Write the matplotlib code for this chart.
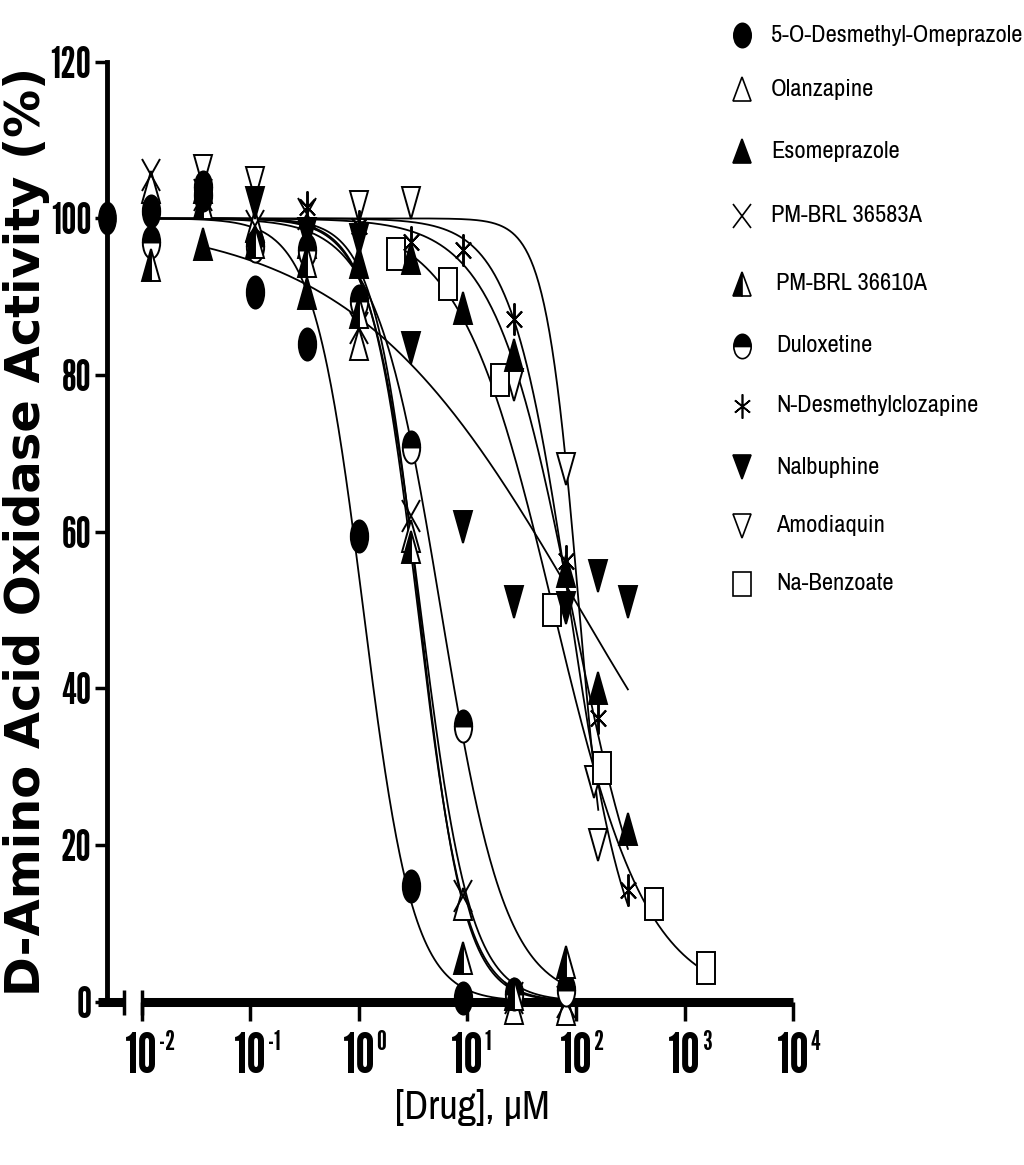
import numpy as np
import matplotlib
matplotlib.use('Agg')
import matplotlib.pyplot as plt
from matplotlib import font_manager
from matplotlib.markers import MarkerStyle
from matplotlib.transforms import Affine2D

names = {f.name for f in font_manager.fontManager.ttflist}


def pick(cands):
    return next((c for c in cands if c in names), 'DejaVu Sans')


tick_font = pick(['League Gothic', 'Oswald', 'Antonio', 'Fjalla One', 'Roboto Condensed'])
text_font = pick(['Archivo Narrow', 'PT Sans Narrow', 'Roboto Condensed', 'Liberation Sans'])
plt.rcParams['font.family'] = [text_font, 'DejaVu Sans']

# --- data: concentration (uM) vs activity (%) ---
drugs = ['5-O-Desmethyl-Omeprazole', 'Olanzapine', 'Esomeprazole', 'PM-BRL 36583A',
         'PM-BRL 36610A', 'Duloxetine', 'N-Desmethylclozapine', 'Nalbuphine',
         'Amodiaquin', 'Na-Benzoate']

conc_omep = [0.0123, 0.037, 0.111, 0.333, 1, 3, 9]
act_omep = [101, 103, 90.6, 84, 59.5, 14.7, 0.5]
conc_olan = [0.0123, 0.037, 0.111, 0.333, 1, 3, 9, 27, 81]
act_olan = [104, 104, 99, 97, 84, 59.5, 12.5, -0.8, -1]
conc_esom = [0.037, 0.333, 1, 3, 9, 27, 81, 160, 300]
act_esom = [96.7, 90.5, 94.4, 95, 88.6, 82.5, 55, 40, 22]
conc_pm83 = [0.0123, 0.037, 0.111, 0.333, 1, 3, 9, 27, 81]
act_pm83 = [105.5, 103, 99, 100.5, 86, 62, 13.5, 0.5, 0]
conc_pm10 = [0.0123, 0.037, 0.111, 0.333, 1, 3, 9, 27, 81]
act_pm10 = [94, 102, 97, 94.5, 88, 58, 5.5, 1, 5]
conc_dulo = [0.0123, 0.037, 0.111, 0.333, 1, 3, 9, 27, 81]
act_dulo = [97, 104, 96.5, 96, 89.5, 70.8, 35.2, 1, 1.5]
conc_ndes = [0.333, 1, 3, 9, 27, 81, 160, 300]
act_ndes = [101.5, 99, 97, 96, 87.2, 56.3, 36.2, 14.2]
conc_nalb = [0.111, 0.333, 1, 3, 9, 27, 81, 160, 300]
act_nalb = [102, 98, 97.2, 83.5, 60.6, 51, 50.3, 54.4, 51]
conc_amod = [0.037, 0.111, 1, 3, 27, 81, 145, 160]
act_amod = [106, 104.5, 101.5, 102, 78.7, 68, 28, 20]
conc_benz = [2.2, 6.6, 20, 60, 175, 525, 1580]
act_benz = [95.4, 91.6, 79.3, 50, 29.8, 12.4, 4.3]

conc = [conc_omep, conc_olan, conc_esom, conc_pm83, conc_pm10,
        conc_dulo, conc_ndes, conc_nalb, conc_amod, conc_benz]
act = [act_omep, act_olan, act_esom, act_pm83, act_pm10,
       act_dulo, act_ndes, act_nalb, act_amod, act_benz]

zero_dose_act = 100  # 5-O-Desmethyl-Omeprazole, no drug

# fitted sigmoid curves (estimated IC50 in uM, Hill slope, drawn range)
ic50 = [1.1, 3.5, 92, 3.7, 3.6, 5.7, 88, 110, 107, 62]
hill = [1.9, 2.0, 1.2, 1.9, 2.1, 1.45, 1.6, 0.41, 2.8, 1.0]
fit_lo = [0.0123, 0.0123, 0.037, 0.0123, 0.0123, 0.0123, 0.333, 0.037, 0.037, 2.2]
fit_hi = [30, 81, 300, 81, 81, 81, 300, 300, 160, 1580]

x_ticks = [1e-2, 1e-1, 1e0, 1e1, 1e2, 1e3, 1e4]
x_exps = ['-2', '-1', '0', '1', '2', '3', '4']

# --- marker styles (the original markers are drawn tall) ---
stretch = Affine2D().scale(1, 1.85)
leg_stretch = Affine2D().scale(1, 1.4)
styles = [
    dict(m='o', fs='full', fc='black'),
    dict(m='^', fs='full', fc='white'),
    dict(m='^', fs='full', fc='black'),
    dict(m='x', fs='full', fc='black'),
    dict(m='^', fs='left', fc='black'),
    dict(m='o', fs='top', fc='black'),
    dict(m=(6, 2, 0), fs='full', fc='black'),
    dict(m='v', fs='full', fc='black'),
    dict(m='v', fs='full', fc='white'),
    dict(m='s', fs='full', fc='white'),
]

fig = plt.figure(figsize=(10.24, 11.65), dpi=100)
ax = fig.add_axes([0.1042, 0.1403, 0.6705, 0.8067])

x_left = 10 ** -2.322
ax.set_xscale('log')
ax.set_xlim(x_left, 1e4)
ax.set_ylim(0, 120)

for i in range(len(drugs)):
    xs = np.logspace(np.log10(fit_lo[i]), np.log10(fit_hi[i]), 300)
    ys = 100 / (1 + (xs / ic50[i]) ** hill[i])
    ax.plot(xs, ys, color='black', lw=1.3, zorder=2)

draw_order = [1, 8, 9, 3, 6, 5, 4, 2, 7, 0]
for i in draw_order:
    st = styles[i]
    ms = MarkerStyle(st['m'], fillstyle=st['fs'], transform=stretch)
    ax.plot(conc[i], act[i], ls='none', marker=ms, markersize=12.5,
            markerfacecolor=st['fc'], markerfacecoloralt='white',
            markeredgecolor='black', markeredgewidth=1.4, zorder=3, clip_on=False)

ax.plot([x_left], [zero_dose_act], ls='none',
        marker=MarkerStyle('o', transform=stretch), markersize=12.5,
        color='black', zorder=4, clip_on=False)

# axes styling
for s in ['top', 'right']:
    ax.spines[s].set_visible(False)
ax.spines['left'].set_linewidth(3.5)
ax.spines['bottom'].set_linewidth(6.5)
ax.spines['bottom'].set_bounds(1e-2, 1e4)
ax.spines['bottom'].set_capstyle('butt')

# short axis piece left of the break
ax.plot([10 ** -2.40, 10 ** -2.165], [0, 0], color='black', lw=6.5,
        solid_capstyle='butt', clip_on=False, zorder=5)
ax.plot([10 ** -2.165, 1e-2], [0, 0], ls='none', marker='|', markersize=18,
        markeredgewidth=2.5, color='black', clip_on=False, zorder=5)

ax.set_yticks([0, 20, 40, 60, 80, 100, 120])
ax.set_xticks(x_ticks)
ax.set_xticklabels(['10'] * len(x_ticks))
ax.minorticks_off()
ax.tick_params(axis='y', direction='out', length=9, width=2.5, pad=2, labelsize=25)
ax.tick_params(axis='x', direction='out', length=14, width=2.5, pad=8, labelsize=26)
for lab in ax.get_yticklabels() + ax.get_xticklabels():
    lab.set_family([tick_font, 'DejaVu Sans'])
    lab.set_fontweight('bold')

ylab = fig.text(27 / 1024, 1 - 531 / 1165, 'D-Amino Acid Oxidase Activity (%)',
                rotation=90, ha='center', va='center', fontsize=32, fontweight='bold',
                family=['DejaVu Sans'])
xlab = fig.text(472 / 1024, 1 - 1108 / 1165, '[Drug], \u00b5M', ha='center', va='center',
                fontsize=26)

# legend, laid out in figure pixels
lax = fig.add_axes([0, 0, 1, 1])
lax.set_xlim(0, 1024)
lax.set_ylim(1165, 0)
lax.axis('off')
leg_y = [35, 89, 151, 216, 284, 346, 406, 467, 526, 584]
leg_tx = [771, 771, 771, 771, 776, 776, 776, 776, 776, 776]
leg_texts = []
for i in range(len(drugs)):
    st = styles[i]
    ms = MarkerStyle(st['m'], fillstyle=st['fs'], transform=leg_stretch)
    lax.plot([742], [leg_y[i]], ls='none', marker=ms, markersize=12.5,
             markerfacecolor=st['fc'], markerfacecoloralt='white',
             markeredgecolor='black', markeredgewidth=1.2)
    leg_texts.append(lax.text(leg_tx[i], leg_y[i], drugs[i], ha='left', va='center',
                              fontsize=18))

# size the texts to the widths seen in the original
fig.canvas.draw()
r = fig.canvas.get_renderer()


def width(t):
    return t.get_window_extent(r).width


s = 18 * 250 / width(leg_texts[0])
for t in leg_texts:
    t.set_fontsize(s)
xlab.set_fontsize(26 * 155 / width(xlab))
ylab.set_fontsize(32 * 930 / ylab.get_window_extent(r).height)
ysz = 25 * 41 / width(ax.get_yticklabels()[-1])
xsz = 26 * 33 / width(ax.get_xticklabels()[0])
ax.tick_params(axis='y', labelsize=ysz)
ax.tick_params(axis='x', labelsize=xsz)

# exponents of the decade labels
fig.canvas.draw()
lab0 = ax.get_xticklabels()[0].get_window_extent(r)
for xt, e in zip(x_ticks, x_exps):
    ax.annotate(e, xy=(xt, 0), xycoords=('data', 'axes fraction'),
                xytext=(lab0.width / 2 + 1, lab0.y1 - ax.get_window_extent(r).y0 + 2),
                textcoords='offset pixels', ha='left', va='top',
                fontsize=xsz * 0.5, fontweight='bold', family=[tick_font, 'DejaVu Sans'],
                annotation_clip=False)

fig.savefig('out.png', dpi=100)
